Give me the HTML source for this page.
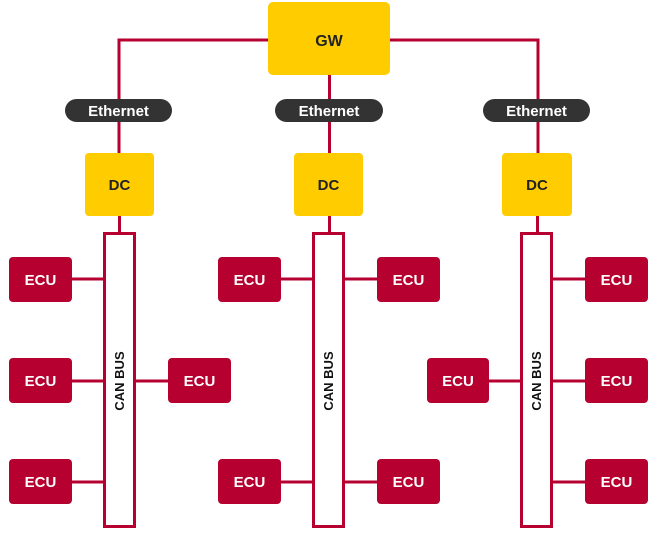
<!DOCTYPE html>
<html><head><meta charset="utf-8"><style>
html,body{margin:0;padding:0;background:#fff;}
svg text{font-family:"Liberation Sans",sans-serif;font-weight:bold;}
</style></head><body>
<svg width="659" height="535" viewBox="0 0 659 535" xmlns="http://www.w3.org/2000/svg">
<g stroke="#b50030" stroke-width="3" fill="none">
<polyline points="119,153 119,40 538,40 538,153"/>
<line x1="329.5" y1="75" x2="329.5" y2="153"/>
<line x1="119.5" y1="216" x2="119.5" y2="233"/>
<line x1="329.5" y1="216" x2="329.5" y2="233"/>
<line x1="537.5" y1="216" x2="537.5" y2="233"/>
<line x1="72" y1="279" x2="104" y2="279"/>
<line x1="72" y1="381" x2="104" y2="381"/>
<line x1="72" y1="482" x2="104" y2="482"/>
<line x1="135" y1="381" x2="168" y2="381"/>
<line x1="281" y1="279" x2="313" y2="279"/>
<line x1="281" y1="482" x2="313" y2="482"/>
<line x1="345" y1="279" x2="377" y2="279"/>
<line x1="345" y1="482" x2="377" y2="482"/>
<line x1="489" y1="381" x2="521" y2="381"/>
<line x1="553" y1="279" x2="585" y2="279"/>
<line x1="553" y1="381" x2="585" y2="381"/>
<line x1="553" y1="482" x2="585" y2="482"/>
<rect x="104.5" y="233.5" width="30" height="293" fill="#fff"/>
<rect x="313.5" y="233.5" width="30" height="293" fill="#fff"/>
<rect x="521.5" y="233.5" width="30" height="293" fill="#fff"/>
</g>
<rect x="268" y="2" width="122" height="73" rx="5" fill="#ffcc00"/>
<text x="329" y="46" font-size="16" text-anchor="middle" fill="#222">GW</text>
<g fill="#333">
<rect x="65" y="99" width="107" height="23" rx="11.5"/>
<rect x="275" y="99" width="108" height="23" rx="11.5"/>
<rect x="483" y="99" width="107" height="23" rx="11.5"/>
</g>
<g fill="#fff" font-size="15" text-anchor="middle">
<text x="118.5" y="116" font-family="Liberation Sans" font-weight="bold">Ethernet</text>
<text x="329" y="116" font-family="Liberation Sans" font-weight="bold">Ethernet</text>
<text x="536.5" y="116" font-family="Liberation Sans" font-weight="bold">Ethernet</text>
</g>
<g fill="#ffcc00">
<rect x="85" y="153" width="69" height="63" rx="4"/>
<rect x="294" y="153" width="69" height="63" rx="4"/>
<rect x="502" y="153" width="70" height="63" rx="4"/>
</g>
<g fill="#222" font-size="15" text-anchor="middle">
<text x="119.5" y="190">DC</text>
<text x="328.5" y="190">DC</text>
<text x="537" y="190">DC</text>
</g>
<g fill="#b50030">
<rect x="9" y="257" width="63" height="45" rx="4"/>
<rect x="9" y="358" width="63" height="45" rx="4"/>
<rect x="9" y="459" width="63" height="45" rx="4"/>
<rect x="168" y="358" width="63" height="45" rx="4"/>
<rect x="218" y="257" width="63" height="45" rx="4"/>
<rect x="218" y="459" width="63" height="45" rx="4"/>
<rect x="377" y="257" width="63" height="45" rx="4"/>
<rect x="377" y="459" width="63" height="45" rx="4"/>
<rect x="427" y="358" width="62" height="45" rx="4"/>
<rect x="585" y="257" width="63" height="45" rx="4"/>
<rect x="585" y="358" width="63" height="45" rx="4"/>
<rect x="585" y="459" width="63" height="45" rx="4"/>
</g>
<g fill="#fff" font-size="15" text-anchor="middle">
<text x="40.5" y="285">ECU</text>
<text x="40.5" y="386">ECU</text>
<text x="40.5" y="487">ECU</text>
<text x="199.5" y="386">ECU</text>
<text x="249.5" y="285">ECU</text>
<text x="249.5" y="487">ECU</text>
<text x="408.5" y="285">ECU</text>
<text x="408.5" y="487">ECU</text>
<text x="458" y="386">ECU</text>
<text x="616.5" y="285">ECU</text>
<text x="616.5" y="386">ECU</text>
<text x="616.5" y="487">ECU</text>
</g>
<g fill="#111" font-size="13" text-anchor="middle">
<text transform="translate(124,381) rotate(-90)">CAN BUS</text>
<text transform="translate(333,381) rotate(-90)">CAN BUS</text>
<text transform="translate(541,381) rotate(-90)">CAN BUS</text>
</g>
</svg>
</body></html>
